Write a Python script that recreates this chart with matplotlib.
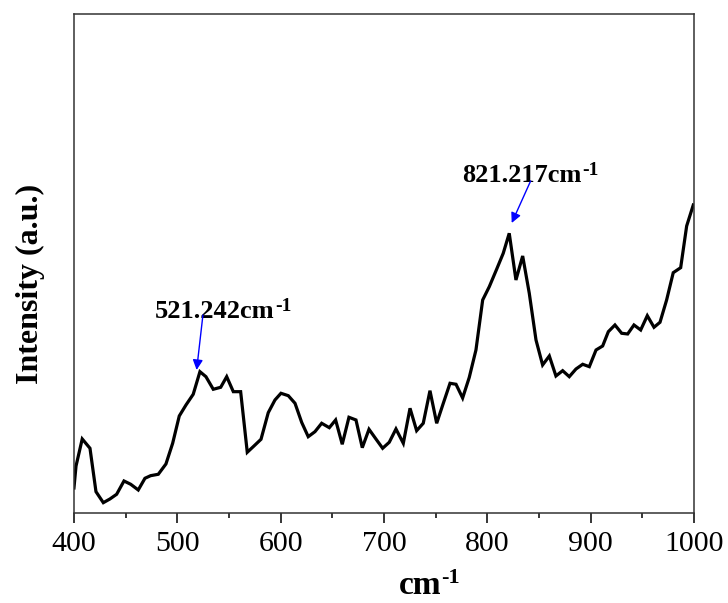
import numpy as np
import matplotlib
matplotlib.use('Agg')
import matplotlib.pyplot as plt
from matplotlib.ticker import MultipleLocator

plt.rcParams['font.family'] = ['Liberation Serif', 'DejaVu Serif']

# Raman spectrum (arbitrary intensity units)
wavenumber = [400.0, 402.0, 408.0, 415.5, 421.3, 428.4, 434.8, 441.3, 448.4, 454.9,
              462.2, 468.7, 474.2, 481.6, 489.0, 495.5, 501.9, 508.4, 515.4, 521.9,
              527.7, 534.8, 542.0, 547.8, 554.2, 561.3, 567.7, 574.2, 581.0, 588.0,
              594.5, 600.3, 607.4, 613.9, 620.4, 626.7, 633.2, 639.7, 647.1, 653.2,
              659.6, 666.1, 672.9, 679.0, 685.5, 692.2, 698.7, 705.1, 711.6, 718.7,
              725.2, 731.6, 738.0, 744.5, 751.0, 757.4, 763.9, 769.7, 776.1, 782.5,
              789.0, 795.5, 801.9, 809.0, 815.4, 821.2, 827.7, 834.2, 840.6, 847.1,
              853.5, 860.0, 866.4, 872.9, 879.3, 885.8, 892.3, 898.7, 905.2, 911.6,
              917.1, 923.5, 930.0, 935.8, 941.9, 948.4, 954.8, 961.3, 967.1, 973.5,
              979.9, 987.1, 992.9, 999.3]
intensity = [25, 47, 74, 64.7, 21.3, 10.3, 14, 18.7, 32, 28.7,
             23, 34.7, 37.3, 38.7, 49, 69.7, 97, 108, 118.7, 141.3,
             136.3, 123.7, 125.7, 136.3, 121.3, 121.3, 60.7, 67, 73.7, 100.3,
             113, 119.7, 117.3, 109.7, 90.5, 76.3, 81.3, 89.7, 85.3, 93,
             68.7, 95.7, 93, 65.3, 83.7, 74, 64.7, 70.7, 84, 69.7,
             104.7, 82.3, 89.7, 122.3, 89.7, 109.7, 129.7, 128.7, 115, 135.5,
             163, 213, 226.3, 243.7, 259.7, 279.7, 233, 257, 219.7, 173,
             148, 157, 137, 142.3, 136.3, 144, 148.7, 146.3, 163, 167,
             181.3, 188, 179.7, 179, 188, 183, 197.3, 185.7, 190.7, 213,
             240.3, 245.3, 287, 308]

peak_labels = ['521.242cm', '821.217cm']
label_pos = [(478.4, 195), (775.5, 331)]
arrow_tail = [(524.8, 198), (841.9, 332)]
arrow_tip = [(518.7, 143), (823.6, 290)]

fig = plt.figure(figsize=(7.28, 6.03), dpi=100)
ax = fig.add_axes([0.1016, 0.1493, 0.8517, 0.8275])

ax.plot(wavenumber, intensity, color='black', lw=2.3, solid_joinstyle='miter')

for lab, pos, tail, tip in zip(peak_labels, label_pos, arrow_tail, arrow_tip):
    t = ax.text(pos[0], pos[1], lab, fontsize=19, fontweight='bold', ha='left', va='baseline')
    ax.annotate('-1', xy=(1.005, 1.08), xycoords=t, ha='left', va='top',
                fontsize=14, fontweight='bold')
    ax.annotate('', xy=tip, xytext=tail,
                arrowprops=dict(arrowstyle='-|>', color='blue', lw=1, mutation_scale=15,
                                shrinkA=0, shrinkB=0))

ax.set_xlim(400, 1000)
ax.set_ylim(0, 499)
ax.xaxis.set_major_locator(MultipleLocator(100))
ax.xaxis.set_minor_locator(MultipleLocator(50))
ax.set_yticks([])
ax.tick_params(axis='x', which='major', direction='out', length=7, width=1.1,
               labelsize=21.5, pad=6)
ax.tick_params(axis='x', which='minor', direction='out', length=3.5, width=1.1)
for s in ax.spines.values():
    s.set_linewidth(1.1)
    s.set_color('#333333')

ax.set_xlabel('cm', fontsize=24, fontweight='bold')
ax.xaxis.set_label_coords(0.558, -0.114)
ax.annotate('-1', xy=(1.005, 1.05), xycoords=ax.xaxis.label, ha='left', va='top',
            fontsize=16, fontweight='bold')
ax.set_ylabel('Intensity (a.u.)', fontsize=23, fontweight='bold')
ax.yaxis.set_label_coords(-0.046, 0.459)

plt.savefig('out.png', dpi=100)
